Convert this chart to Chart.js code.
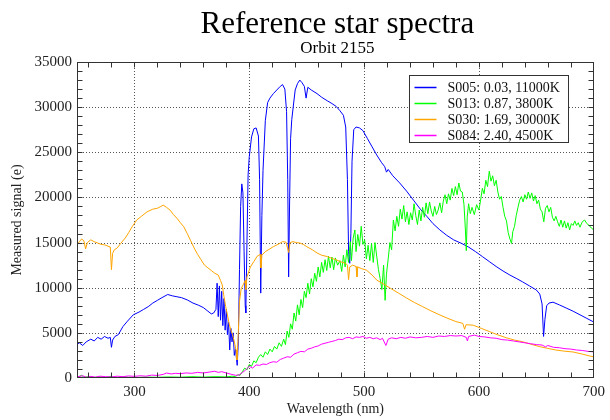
<!DOCTYPE html>
<html><head><meta charset="utf-8">
<script src="https://cdn.jsdelivr.net/npm/chart.js@4.4.0/dist/chart.umd.min.js"></script>
<style>html,body{margin:0;padding:0;background:#fff}#wrap{width:610px;height:420px}</style>
</head><body><div id="wrap"><canvas id="c" width="610" height="420"></canvas></div>
<script>
const chartTitle = 'Reference star spectra';
const chartSubtitle = 'Orbit 2155';
const xAxisTitle = 'Wavelength (nm)';
const yAxisTitle = 'Measured signal (e)';
const seriesLabels = ['S005: 0.03, 11000K', 'S013: 0.87, 3800K', 'S030: 1.69, 30000K', 'S084: 2.40, 4500K'];
const xTickLabels = [300, 400, 500, 600, 700];
const yTickLabels = [0, 5000, 10000, 15000, 20000, 25000, 30000, 35000];

// [wavelength nm, signal e]
const s005 = [[250,3700],[252,3900],[255,3600],[258,4000],[262,4300],[265,4100],[268,4500],[271,4300],[274,4600],[277,4400],[279,4500],[280,3400],[281,4200],[283,4600],[286,4800],[290,5700],[294,6300],[299,7000],[304,7300],[308,7600],[312,7900],[316,8300],[320,8600],[324,8900],[329,9250],[333,9100],[337,9000],[341,8900],[346,8650],[351,8300],[356,8050],[360,7800],[364,7400],[367,7100],[369,7200],[371,7600],[372,10500],[373,6800],[374,10200],[375,6400],[376,9600],[377,5800],[378,8800],[379,5300],[380,7600],[381,4800],[382,6200],[383,3100],[384,5500],[385,4000],[386,5000],[387,2500],[388,3200],[389.5,1400],[390.5,4000],[391.5,12000],[392.5,19000],[393.5,21500],[394.5,20500],[395.5,14000],[396.5,8000],[397,7200],[398,15000],[399,22500],[400,24500],[402,26700],[404,27600],[406,27700],[408,26800],[409,22000],[410,9400],[411,18000],[412,23000],[414,28500],[416,30500],[418,31000],[421,31500],[424,31900],[427,32300],[429,32500],[431,32000],[432.5,29500],[433.5,22000],[434.3,11200],[435.2,20000],[436,26500],[437,28600],[440,31900],[442,32600],[444,33000],[446,32700],[448,32300],[449.5,31000],[451,32200],[454,31900],[459,31500],[463,31100],[468,30700],[472,30400],[476,30050],[479,29600],[482,29100],[484,27800],[485.5,22000],[486.5,14000],[487.5,12700],[488.5,16000],[489.5,24000],[491,27500],[493,27800],[496,27700],[499,27400],[503,26500],[507,25600],[511,24700],[515,23900],[518,23400],[519.5,22800],[521,23100],[525,22400],[531,21600],[537,20700],[543,19700],[549,18700],[555,17850],[560,17100],[566,16400],[572,15800],[578,15300],[585,14900],[591,14500],[597,14000],[603,13450],[609,12900],[615,12350],[621,11850],[627,11400],[633,11000],[638,10650],[644,10200],[650,9750],[653,9300],[655,8200],[656.3,4600],[657.5,6500],[659,8000],[661,8300],[664.5,8400],[670,8100],[676,7750],[682,7400],[688,7000],[694,6600],[700,6200]];

const s013 = [[250,50],[254,300],[256,80],[260,150],[265,60],[270,120],[275,50],[280,200],[282,50],[290,100],[300,60],[310,100],[320,80],[330,120],[340,90],[350,150],[360,100],[370,150],[380,120],[385,200],[388,150],[390,350],[392,300],[394,700],[396,1100],[398,900],[400,1500],[402,1300],[404,1900],[406,1700],[408,2300],[410,2600],[412,2300],[414,2900],[416,2600],[418,3200],[420,2900],[422,3500],[424,3200],[426,3900],[428,3500],[430,4300],[431.5,3700],[433,5200],[434.5,4500],[436,6000],[437.5,5400],[439,7200],[440.5,6300],[442,8100],[443.5,7000],[445,8700],[446.5,7800],[448,9600],[449.5,8900],[451,10500],[452.5,9300],[454,11000],[455.5,10100],[457,11600],[458.5,10700],[460,12300],[461.5,11200],[463,12800],[464.5,11700],[466,13100],[467.5,11900],[469,13500],[470.5,12200],[472,13400],[473.5,12000],[475,13300],[477,12500],[479,13000],[480.5,11800],[482,13600],[483.5,12300],[485,14200],[486.5,12800],[488,15100],[489,13000],[490.5,15500],[492,16400],[493,14000],[494.5,15900],[496,14600],[497.5,16800],[499,14800],[500.5,15300],[502,13200],[503.5,14700],[505,13000],[506.5,14900],[508,12800],[509.5,15000],[511,13500],[512.5,12000],[514,11000],[515.5,9800],[517,12500],[518.3,8600],[519.5,11500],[521,13200],[522.5,15000],[524,14200],[525.5,17500],[527,16300],[528.5,17900],[530,16800],[531.5,18700],[533,17600],[534.5,19100],[536,17300],[537.5,18400],[539,17000],[540.5,18300],[542,17500],[543.5,19300],[545,18000],[546.5,17000],[548,18600],[549.5,17400],[551,18900],[552.5,17800],[554,19400],[555.5,18200],[557,19500],[558.5,18500],[560,17900],[561.5,19000],[563,18100],[564.5,18600],[566,19400],[567.5,18300],[569,19600],[570.5,20300],[572,19300],[573.5,20400],[575,19700],[576.5,21000],[578,20200],[579.5,21200],[581,20300],[582.5,21600],[584,20700],[585.5,20600],[587,19200],[588.2,16500],[589,14100],[589.8,17800],[591,19300],[592.5,18200],[594,18900],[596,18100],[598,19200],[600,18600],[601.5,19700],[603,21000],[604.5,20400],[606,21900],[607.5,21200],[609,22900],[610.5,21800],[612,22400],[613.5,21300],[615,21900],[616.5,20600],[618,19800],[619.5,20100],[621,18900],[622.5,17900],[624,17400],[625.5,16100],[627,15400],[628.4,14900],[629.5,16200],[631,16800],[632.5,18000],[634,18900],[635.5,19700],[637,20100],[638.5,19500],[640,20300],[641.5,19800],[643,20600],[644.5,19900],[646,20500],[647.5,19600],[649,20200],[650.5,19300],[652,19700],[653.5,18700],[655,18400],[656.5,17300],[658,18800],[659.5,19100],[661,18400],[662.5,18900],[664,17800],[665.5,17400],[667,17900],[668.5,17300],[670,16800],[671.5,17500],[673,16700],[674.5,17400],[676,16600],[677.5,17200],[679,16400],[680.5,17100],[682,16900],[683.5,17400],[685,16900],[686.5,17200],[688,16700],[690,17300],[692,17500],[694,17100],[696,16900],[698,16600],[700,16400]];

const s030 = [[250,14700],[252,15100],[254,15400],[256,15200],[257.5,14300],[259,15000],[262,15300],[265,15100],[268,14950],[271,14800],[274,14750],[277,14600],[279,14500],[280,12000],[281,13800],[282.5,14200],[285,14400],[288,14900],[292,15500],[295,16100],[298,16750],[302,17500],[306,17900],[311,18400],[316,18700],[320,18800],[323,19000],[325,19150],[328,18900],[331,18600],[334,18100],[337,17700],[340,17200],[343,16750],[346,16000],[349,15200],[352,14400],[355,13700],[358,13100],[361,12500],[364,12200],[367,11900],[370,11600],[373,11400],[375,10800],[376.5,10300],[378,9000],[379.5,7900],[381,7000],[382.5,6000],[384,5300],[385.5,4800],[387,4000],[388.5,3100],[389.3,2000],[390.3,4500],[391.5,8500],[393,9900],[395,10400],[396.5,10800],[397,9800],[398,11200],[401,12300],[404,12900],[407,13500],[409.6,13700],[410.2,12200],[411,13600],[414,14000],[418,14300],[421,14550],[425,14800],[429,15100],[432,15050],[434.3,13900],[435.5,15000],[438,15100],[441,15000],[444,14950],[447,14800],[450,14550],[455,14200],[459,13850],[463,13600],[468,13450],[472,13250],[476,13070],[480,12850],[484,12700],[485.5,12500],[486.5,10900],[487.5,12300],[490,12500],[493,12350],[493.8,11200],[494.5,12300],[498,12100],[502,11950],[507,11400],[511,10850],[517,10400],[523,9930],[530,9400],[537,8860],[544,8350],[551,7900],[558,7450],[566,6980],[573,6600],[580,6250],[586,6050],[587.5,5400],[588.8,5900],[595,5850],[602,5500],[609,5150],[616,4800],[624,4450],[631,4200],[638,4020],[645,3750],[653,3470],[660,3280],[667,3100],[674,2980],[682,2880],[690,2650],[696,2450],[700,2350]];

const s084 = [[250,120],[255,250],[258,80],[262,180],[266,100],[270,200],[275,150],[280,120],[285,200],[290,150],[295,230],[300,180],[305,250],[310,200],[315,320],[320,280],[325,400],[328,550],[332,450],[336,520],[340,480],[345,560],[350,520],[355,620],[360,560],[365,650],[370,750],[373,620],[376,700],[380,560],[384,420],[388,300],[391,330],[394,600],[397,900],[400,1300],[403,1100],[406,1450],[409,1400],[412,1550],[415,1500],[418,1700],[421,1800],[424,1750],[427,2050],[430,2200],[433,2350],[436,2300],[439,2650],[442,2800],[445,2950],[448,2900],[451,3200],[454,3300],[457,3450],[460,3550],[463,3750],[466,3850],[469,3950],[472,4050],[475,4150],[478,4300],[481,4250],[484,4450],[487,4500],[490,4350],[493,4550],[496,4500],[499,4600],[502,4400],[505,4500],[508,4350],[511,4450],[514,4250],[516,4400],[519,3600],[521,4300],[524,4450],[528,4350],[532,4500],[536,4400],[540,4550],[545,4450],[550,4500],[555,4600],[560,4500],[565,4650],[570,4600],[575,4700],[580,4650],[585,4700],[589,4500],[590,4100],[591,4600],[596,4750],[600,4600],[605,4550],[610,4450],[615,4400],[620,4250],[625,4200],[630,4100],[635,4000],[640,3900],[645,3800],[650,3700],[655,3650],[658,3450],[660,3600],[665,3400],[670,3350],[675,3250],[680,3200],[685,3100],[690,3050],[695,2950],[700,2900]];

const seriesColors = ['#0000ff', '#00ff00', '#ffa500', '#ff00ff'];
const seriesData = [s005, s013, s030, s084];

const serif = "'Liberation Serif', 'Times New Roman', serif";

const framePlugin = {
  id: 'frame',
  beforeDatasetsDraw(chart) {
    const {ctx, chartArea: a, scales: {x, y}} = chart;
    ctx.save();
    ctx.strokeStyle = '#555';
    ctx.lineWidth = 1;
    ctx.setLineDash([1, 2]);
    xTickLabels.forEach(v => {
      const px = Math.round(x.getPixelForValue(v)) + 0.5;
      if (px > a.left + 1 && px < a.right - 1) {
        ctx.beginPath(); ctx.moveTo(px, a.top); ctx.lineTo(px, a.bottom); ctx.stroke();
      }
    });
    yTickLabels.forEach(v => {
      const py = Math.round(y.getPixelForValue(v)) + 0.5;
      if (py > a.top + 1 && py < a.bottom - 1) {
        ctx.beginPath(); ctx.moveTo(a.left, py); ctx.lineTo(a.right, py); ctx.stroke();
      }
    });
    ctx.restore();
  },
  afterDatasetsDraw(chart) {
    const {ctx, chartArea: a, scales: {x, y}} = chart;
    ctx.save();
    ctx.strokeStyle = '#333';
    ctx.lineWidth = 1;
    ctx.setLineDash([]);
    const L = Math.round(a.left) + 0.5, R = Math.round(a.right) - 0.5;
    const T = Math.round(a.top) + 0.5, B = Math.round(a.bottom) - 0.5;
    ctx.strokeRect(L, T, R - L, B - T);
    const tl = 5;
    for (let v = 260; v < 700; v += 20) {
      const px = Math.round(x.getPixelForValue(v)) + 0.5;
      ctx.beginPath();
      ctx.moveTo(px, B); ctx.lineTo(px, B - tl);
      ctx.moveTo(px, T); ctx.lineTo(px, T + tl);
      ctx.stroke();
    }
    for (let v = 1000; v < 35000; v += 1000) {
      const py = Math.round(y.getPixelForValue(v)) + 0.5;
      ctx.beginPath();
      ctx.moveTo(L, py); ctx.lineTo(L + tl, py);
      ctx.moveTo(R, py); ctx.lineTo(R - tl, py);
      ctx.stroke();
    }
    // legend
    const bw = 159, bh = 67;
    const bx = Math.round(a.right) - 26 - bw + 0.5, by = Math.round(a.top) + 13 + 0.5;
    ctx.fillStyle = '#fff';
    ctx.fillRect(bx, by, bw, bh);
    ctx.strokeStyle = '#333';
    ctx.strokeRect(bx, by, bw, bh);
    ctx.font = '14px ' + serif;
    ctx.textBaseline = 'middle';
    ctx.textAlign = 'left';
    seriesLabels.forEach((lab, i) => {
      const ry = Math.round(by + 11 + i * 16) + 0.5;
      ctx.strokeStyle = seriesColors[i];
      ctx.lineWidth = 1.5;
      ctx.beginPath(); ctx.moveTo(bx + 5, ry); ctx.lineTo(bx + 27, ry); ctx.stroke();
      ctx.fillStyle = '#111';
      ctx.fillText(lab, bx + 38, ry + 0.5);
    });
    // titles
    const cx = (a.left + a.right) / 2 + 2;
    ctx.fillStyle = '#000';
    ctx.textAlign = 'center';
    ctx.textBaseline = 'alphabetic';
    ctx.font = '31px ' + serif;
    ctx.fillText(chartTitle, cx, 33);
    ctx.font = '17px ' + serif;
    ctx.fillText(chartSubtitle, cx, 53);
    ctx.restore();
  }
};

new Chart(document.getElementById('c'), {
  type: 'line',
  data: {
    datasets: seriesData.map((s, i) => ({
      label: seriesLabels[i],
      data: s.map(p => ({x: p[0], y: p[1]})),
      borderColor: seriesColors[i],
      borderWidth: 1,
      pointRadius: 0,
      tension: 0,
      fill: false,
      order: 4 - i
    }))
  },
  options: {
    responsive: false,
    animation: false,
    devicePixelRatio: 1,
    layout: {padding: {top: 62, right: 16, left: 0, bottom: 0}},
    plugins: {legend: {display: false}, title: {display: false}, tooltip: {enabled: false}},
    scales: {
      x: {
        type: 'linear', min: 250, max: 700,
        afterBuildTicks: s => { s.ticks = xTickLabels.map(v => ({value: v})); },
        afterFit: s => { s.height = 42; },
        grid: {display: false, drawTicks: false},
        border: {display: false},
        ticks: {font: {family: serif, size: 15}, color: '#222', padding: 5, maxRotation: 0, autoSkip: false,
                callback: v => String(v)},
        title: {display: true, text: xAxisTitle, font: {family: serif, size: 14}, color: '#222', padding: {top: 0, bottom: 2}}
      },
      y: {
        type: 'linear', min: 0, max: 35000,
        afterBuildTicks: s => { s.ticks = yTickLabels.map(v => ({value: v})); },
        afterFit: s => { s.width = 77; },
        grid: {display: false, drawTicks: false},
        border: {display: false},
        ticks: {font: {family: serif, size: 15}, color: '#222', padding: 5, autoSkip: false,
                callback: v => String(v)},
        title: {display: true, text: yAxisTitle, font: {family: serif, size: 14}, color: '#222', padding: {top: 9, bottom: 0}}
      }
    }
  },
  plugins: [framePlugin]
});
</script></body></html>
